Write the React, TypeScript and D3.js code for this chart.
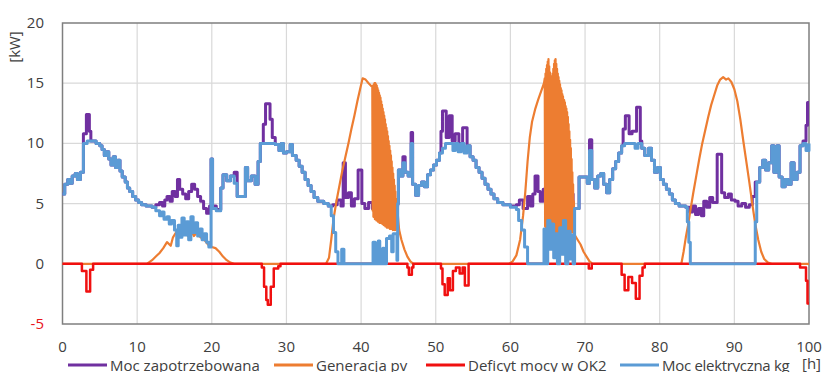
import React from 'react';
import * as d3 from 'd3';

type Pt = [number, number];

// [hour, kW] breakpoints (step after)
const demand: Pt[] = [
  [0, 5.8], [0.3, 6.6], [0.7, 7.0], [1.0, 6.7], [1.3, 7.3], [1.7, 7.5], [2.0, 7.0], [2.4, 7.6],
  [2.8, 10.8], [3.2, 12.4], [3.6, 11.0], [3.8, 10.2], [4.5, 10.0], [5.0, 9.8], [5.3, 9.5], [5.6, 9.0],
  [5.9, 9.3], [6.2, 8.7], [6.5, 8.2], [6.8, 8.9], [7.1, 8.0], [7.4, 8.6], [7.7, 7.7], [8.0, 7.2],
  [8.4, 6.8], [8.7, 6.3], [9.0, 6.0], [9.4, 5.6], [9.8, 5.3], [10.2, 5.1], [10.6, 4.9], [11.2, 4.8],
  [12.0, 4.7], [12.5, 4.9], [13.0, 5.1], [13.4, 4.8], [13.7, 5.3], [14.0, 5.6], [14.4, 5.2], [14.7, 6.0],
  [15.1, 5.6], [15.4, 7.0], [15.7, 6.2], [16.1, 5.8], [16.5, 5.4], [16.9, 6.0], [17.3, 6.6], [17.7, 6.2],
  [18.1, 5.6], [18.5, 5.2], [18.9, 4.6], [19.3, 4.2], [19.7, 4.8], [19.9, 8.7], [20.1, 4.8], [20.6, 4.5],
  [21.2, 6.3], [21.5, 7.4], [22.0, 6.9], [22.5, 7.3], [23.0, 7.6], [23.4, 5.6], [24.5, 8.0], [24.8, 6.9],
  [25.3, 7.3], [25.8, 6.6], [26.2, 8.5], [26.5, 10.0], [26.9, 11.6], [27.2, 13.3], [27.8, 12.0], [28.1, 10.5],
  [28.5, 9.9], [29.0, 9.4], [29.3, 10.0], [29.6, 9.2], [30.0, 9.3], [30.5, 9.9], [30.8, 9.0], [31.3, 8.6],
  [31.7, 8.1], [32.1, 7.6], [32.5, 7.0], [32.9, 6.5], [33.3, 6.0], [33.7, 5.5], [34.2, 5.2], [35.0, 5.0],
  [35.6, 4.8], [36.2, 4.9], [36.8, 5.3], [37.3, 4.8], [37.6, 8.4], [37.9, 5.5], [38.3, 5.9], [38.7, 4.8],
  [39.1, 5.4], [39.6, 7.8], [40.1, 5.0], [40.5, 4.6], [41.0, 5.1], [41.5, 4.6], [42.0, 4.9], [42.5, 4.4],
  [43.0, 5.2], [43.5, 4.7], [44.0, 5.4], [44.5, 4.8], [44.9, 5.0], [45.0, 7.8], [45.3, 7.3], [45.6, 8.9],
  [45.9, 7.6], [46.3, 7.3], [46.7, 10.9], [46.9, 6.6], [47.3, 5.7], [47.7, 6.5], [48.1, 6.8], [48.5, 6.4],
  [48.9, 7.4], [49.3, 7.8], [49.7, 8.2], [50.1, 8.6], [50.5, 9.2], [50.7, 11.0], [50.9, 12.7], [51.4, 10.5],
  [51.8, 12.3], [52.2, 10.2], [52.6, 10.8], [53.1, 10.0], [53.6, 11.3], [54.2, 9.8], [54.6, 8.9], [55.0, 8.6],
  [55.4, 8.0], [55.8, 7.6], [56.2, 7.1], [56.6, 6.6], [57.0, 6.2], [57.4, 5.8], [57.8, 5.4], [58.3, 5.1],
  [59.0, 4.9], [60.0, 4.8], [60.8, 4.9], [61.2, 5.3], [61.7, 4.6], [62.3, 5.6], [62.7, 4.8], [63.0, 5.8],
  [63.3, 7.3], [63.7, 6.0], [64.0, 5.2], [64.4, 6.2], [64.8, 4.9], [65.2, 5.5], [65.6, 4.7], [66.0, 6.0],
  [66.5, 5.0], [67.0, 5.6], [67.5, 4.8], [68.0, 5.8], [68.4, 4.6], [69.2, 7.2], [70.3, 6.7], [70.6, 10.3],
  [70.9, 7.0], [71.3, 6.3], [71.7, 7.3], [72.1, 7.5], [72.5, 6.6], [72.9, 5.9], [73.3, 7.0], [73.7, 7.9],
  [74.1, 8.5], [74.5, 9.2], [74.9, 9.8], [75.1, 11.2], [75.4, 12.3], [75.9, 10.8], [76.3, 11.0], [76.9, 13.0],
  [77.4, 10.2], [77.6, 9.6], [78.0, 9.0], [78.5, 9.6], [78.9, 8.6], [79.3, 7.6], [79.7, 8.0], [80.1, 7.0],
  [80.5, 6.6], [80.9, 6.2], [81.3, 5.8], [81.7, 5.3], [82.1, 5.0], [82.6, 4.8], [83.5, 4.7], [84.0, 4.3],
  [84.4, 4.8], [84.8, 4.1], [85.2, 4.6], [85.6, 4.0], [85.9, 5.2], [86.3, 4.7], [86.7, 5.5], [87.1, 5.1],
  [87.7, 9.1], [88.3, 5.9], [88.7, 5.5], [89.2, 5.8], [89.6, 5.3], [90.1, 5.2], [90.5, 4.8], [91.0, 5.0],
  [91.5, 4.7], [92.0, 4.9], [92.4, 5.6], [92.8, 6.8], [93.4, 8.0], [93.8, 8.6], [94.2, 7.8], [94.6, 8.4],
  [95.0, 9.8], [95.3, 7.6], [95.7, 9.8], [96.0, 7.2], [96.4, 6.4], [96.8, 7.0], [97.2, 6.6], [97.6, 8.4],
  [98.0, 7.0], [98.4, 7.6], [98.8, 9.8], [99.2, 10.2], [99.6, 11.5], [99.8, 13.4], [100, 13.4],
];

const pvGeneration: Pt[] = [
  [0, 0], [11.3, 0], [12.0, 0.3], [12.5, 0.6], [13.0, 0.9], [13.5, 1.3], [14.0, 1.8], [14.5, 1.5],
  [14.8, 2.2], [15.2, 2.6], [15.6, 3.0], [16.0, 2.4], [16.4, 2.9], [16.8, 2.3], [17.2, 2.8], [17.6, 2.3],
  [18.0, 2.6], [18.5, 2.2], [19.0, 2.0], [19.5, 1.6], [20.0, 1.4], [20.5, 1.3], [21.0, 1.0], [21.5, 0.6],
  [22.0, 0.3], [22.5, 0.1], [23.0, 0], [35.3, 0], [35.7, 0.5], [36.0, 2.0], [36.3, 3.7], [36.7, 5.2],
  [37.1, 6.5], [37.5, 7.8], [37.9, 8.9], [38.3, 10.0], [38.7, 11.2], [39.1, 12.3], [39.5, 13.5], [39.9, 14.6],
  [40.2, 15.4], [40.6, 15.3], [41.0, 15.0], [41.3, 14.8],
  [41.50, 14.7], [41.55, 4.4], [41.60, 14.8], [41.65, 3.9], [41.70, 14.9], [41.75, 4.2], [41.80, 15.0], [41.85, 3.7],
  [41.90, 15.0], [41.95, 4.1], [42.00, 14.9], [42.05, 3.6], [42.10, 14.8], [42.15, 4.0], [42.20, 14.6], [42.25, 3.5],
  [42.30, 14.4], [42.35, 3.9], [42.40, 14.2], [42.45, 3.4], [42.50, 14.0], [42.55, 3.8], [42.60, 13.8], [42.65, 3.4],
  [42.70, 13.5], [42.75, 3.7], [42.80, 13.2], [42.85, 3.3], [42.90, 12.9], [42.95, 3.6], [43.00, 12.6], [43.05, 3.2],
  [43.10, 12.3], [43.15, 3.5], [43.20, 12.0], [43.25, 3.1], [43.30, 11.6], [43.35, 3.4], [43.40, 11.3], [43.45, 3.0],
  [43.50, 11.0], [43.55, 3.3], [43.60, 10.6], [43.65, 3.0], [43.70, 10.2], [43.75, 3.3], [43.80, 9.8], [43.85, 2.9],
  [43.90, 9.4], [43.95, 3.2], [44.00, 9.0], [44.05, 2.9], [44.10, 8.5], [44.15, 3.1], [44.20, 8.0], [44.25, 2.8],
  [44.30, 7.5], [44.35, 3.1], [44.40, 7.0], [44.45, 2.8], [44.50, 6.5], [44.55, 3.0], [44.60, 6.0], [44.65, 2.8],
  [44.70, 5.4], [44.75, 3.0], [44.80, 4.8], [44.85, 2.9], [44.90, 4.2],
  [45.1, 2.8], [45.4, 2.0], [45.8, 1.2], [46.2, 0.6], [46.6, 0.2], [47.0, 0], [59.8, 0], [60.3, 0.2],
  [60.8, 0.7], [61.3, 2.0], [61.7, 4.0], [62.0, 6.0], [62.3, 8.5], [62.6, 10.5], [62.9, 11.8], [63.3, 12.8],
  [63.7, 13.6], [64.1, 14.3], [64.5, 15.0],
  [64.60, 15.4], [64.65, 3.1], [64.70, 15.8], [64.75, 2.8], [64.80, 16.2], [64.85, 3.0], [64.90, 16.5], [64.95, 2.6],
  [65.00, 16.8], [65.05, 2.9], [65.10, 17.0], [65.15, 2.5], [65.20, 16.4], [65.25, 2.8], [65.30, 15.9], [65.35, 2.6],
  [65.40, 15.6], [65.45, 3.0], [65.50, 15.5], [65.55, 2.7], [65.65, 15.8], [65.70, 2.9], [65.75, 16.2], [65.80, 2.5],
  [65.85, 16.6], [65.90, 2.8], [65.95, 16.9], [66.00, 2.6], [66.05, 17.0], [66.10, 2.9], [66.15, 16.6], [66.20, 2.5],
  [66.25, 16.2], [66.30, 2.8], [66.35, 15.8], [66.40, 2.6], [66.45, 15.5], [66.50, 2.9], [66.55, 15.2], [66.60, 2.5],
  [66.65, 14.9], [66.70, 2.8], [66.75, 14.6], [66.80, 2.4], [66.85, 14.4], [66.90, 2.7], [66.95, 14.1], [67.00, 2.5],
  [67.05, 13.9], [67.15, 2.8], [67.20, 13.6], [67.25, 2.4], [67.30, 13.4], [67.35, 2.7], [67.40, 13.1], [67.45, 2.4],
  [67.50, 12.9], [67.55, 2.8], [67.60, 12.6], [67.65, 2.5], [67.70, 12.2], [67.75, 2.8], [67.80, 11.6], [67.85, 2.5],
  [67.90, 11.0], [67.95, 2.8], [68.00, 10.3], [68.05, 2.6], [68.10, 9.6], [68.15, 2.9], [68.20, 8.7], [68.25, 2.6],
  [68.30, 7.6], [68.35, 2.8], [68.40, 6.6], [68.45, 2.6], [68.50, 5.2], [68.55, 2.5],
  [68.6, 2.4], [69.0, 2.0], [69.4, 1.6], [69.8, 1.0], [70.2, 0.6], [70.6, 0.2], [71.0, 0], [82.9, 0],
  [83.2, 1.0], [83.5, 2.2], [83.8, 3.2], [84.1, 4.4], [84.5, 5.9], [84.9, 7.3], [85.3, 8.7], [85.7, 10.0],
  [86.1, 11.1], [86.5, 12.2], [86.9, 13.2], [87.3, 14.0], [87.7, 14.8], [88.1, 15.3], [88.5, 15.5], [88.9, 15.3],
  [89.2, 15.4], [89.6, 15.1], [90.0, 14.5], [90.4, 13.5], [90.8, 12.0], [91.2, 10.2], [91.6, 8.5], [92.0, 6.8],
  [92.4, 5.0], [92.8, 3.3], [93.2, 2.0], [93.6, 1.0], [94.0, 0.4], [94.5, 0.1], [95.0, 0], [100, 0],
];

const deficit: Pt[] = [
  [0, 0], [2.6, -0.6], [3.2, -2.3], [3.7, -0.5], [4.1, 0], [26.7, -0.3], [27.0, -1.9], [27.3, -3.0],
  [27.5, -3.4], [27.9, -1.9], [28.3, -0.4], [28.9, -0.2], [29.2, 0], [46.2, -0.3], [46.4, -0.9], [46.8, -0.3],
  [47.0, 0], [50.7, -0.4], [50.9, -1.7], [51.2, -2.6], [51.6, -1.2], [51.9, -2.2], [52.3, -0.6], [52.7, -0.3],
  [53.2, -0.8], [53.6, -0.3], [53.9, -1.8], [54.4, 0], [70.5, -0.4], [70.9, 0], [74.9, -0.9], [75.3, -2.2],
  [75.8, -1.1], [76.3, -1.6], [76.8, -2.9], [77.3, -1.0], [77.7, -0.3], [78.0, 0], [98.8, -0.3], [99.6, -1.4],
  [99.8, -3.3], [100, -3.3],
];

const kgPower: Pt[] = [
  [0, 5.8], [0.3, 6.6], [0.7, 7.0], [1.0, 6.7], [1.3, 7.3], [1.7, 7.5], [2.0, 7.0], [2.4, 7.6],
  [2.8, 10.0], [3.3, 10.2], [4.5, 10.0], [5.0, 9.8], [5.3, 9.5], [5.6, 9.0], [5.9, 9.3], [6.2, 8.7],
  [6.5, 8.2], [6.8, 8.9], [7.1, 8.0], [7.4, 8.6], [7.7, 7.7], [8.0, 7.2], [8.4, 6.8], [8.7, 6.3],
  [9.0, 6.0], [9.4, 5.6], [9.8, 5.3], [10.2, 5.1], [10.6, 4.9], [11.2, 4.8], [12.0, 4.7], [12.5, 4.4],
  [13.0, 4.0], [13.3, 4.3], [13.6, 3.7], [14.0, 3.9], [14.3, 3.3], [14.6, 3.6], [15.0, 2.8], [15.3, 1.5],
  [15.5, 3.2], [15.8, 2.2], [16.0, 3.8], [16.3, 2.4], [16.6, 3.5], [16.9, 2.0], [17.2, 3.9], [17.5, 2.6],
  [17.8, 3.4], [18.1, 2.3], [18.4, 2.9], [18.7, 2.0], [19.0, 2.5], [19.3, 1.8], [19.6, 1.4], [19.9, 8.7],
  [20.1, 4.6], [20.6, 4.4], [21.2, 6.3], [21.5, 7.4], [22.0, 6.9], [22.5, 7.3], [23.0, 6.7], [23.4, 5.6],
  [24.5, 8.0], [24.8, 6.9], [25.3, 7.3], [25.8, 6.6], [26.2, 8.5], [26.5, 10.0], [27.8, 10.0], [28.5, 9.9],
  [29.0, 9.4], [29.3, 10.0], [29.6, 9.2], [30.0, 9.3], [30.5, 9.9], [30.8, 9.0], [31.3, 8.6], [31.7, 8.1],
  [32.1, 7.6], [32.5, 7.0], [32.9, 6.5], [33.3, 6.0], [33.7, 5.5], [34.2, 5.2], [35.0, 5.0], [35.6, 4.8],
  [36.0, 4.0], [36.3, 2.6], [36.6, 1.0], [36.9, 0], [37.4, 1.2], [37.7, 0], [41.6, 1.8], [41.9, 0],
  [42.3, 1.9], [42.5, 0], [42.9, 1.3], [43.1, 0], [43.4, 2.1], [43.8, 2.3], [44.1, 1.0], [44.3, 2.5],
  [44.8, 0.3], [44.9, 5.0], [45.0, 7.8], [45.3, 7.3], [45.6, 8.4], [45.9, 7.6], [46.3, 7.3], [46.7, 10.0],
  [46.9, 6.6], [47.3, 5.7], [47.7, 6.5], [48.1, 6.8], [48.5, 6.4], [48.9, 7.4], [49.3, 7.8], [49.7, 8.2],
  [50.1, 8.6], [50.5, 9.2], [50.9, 9.6], [51.3, 10.0], [52.3, 9.4], [52.6, 10.0], [53.0, 9.3], [53.4, 10.0],
  [53.8, 9.2], [54.2, 9.8], [54.6, 8.9], [55.0, 8.6], [55.4, 8.0], [55.8, 7.6], [56.2, 7.1], [56.6, 6.6],
  [57.0, 6.2], [57.4, 5.8], [57.8, 5.4], [58.3, 5.1], [59.0, 4.9], [60.0, 4.7], [60.8, 4.5], [61.1, 3.6],
  [61.5, 2.8], [61.9, 1.4], [62.3, 0], [64.5, 2.9], [64.8, 0], [65.0, 3.6], [65.3, 1.2], [65.5, 3.3],
  [65.8, 0.5], [66.0, 2.5], [66.3, 0], [66.6, 3.0], [66.9, 0.8], [67.1, 3.6], [67.4, 0], [67.7, 2.7],
  [68.0, 0.4], [68.2, 2.4], [68.4, 0], [68.6, 4.6], [69.2, 7.2], [70.3, 6.7], [70.6, 9.4], [70.9, 7.0],
  [71.3, 6.3], [71.7, 7.3], [72.1, 7.5], [72.5, 6.6], [72.9, 5.9], [73.3, 7.0], [73.7, 7.9], [74.1, 8.5],
  [74.5, 9.2], [74.9, 9.8], [75.3, 10.0], [76.7, 9.6], [77.1, 10.0], [77.6, 9.6], [78.0, 9.0], [78.5, 9.6],
  [78.9, 8.6], [79.3, 7.6], [79.7, 8.0], [80.1, 7.0], [80.5, 6.6], [80.9, 6.2], [81.3, 5.8], [81.7, 5.3],
  [82.1, 5.0], [82.6, 4.8], [83.5, 4.7], [83.7, 3.5], [83.9, 1.8], [84.1, 0], [92.8, 3.5], [93.0, 6.8],
  [93.4, 8.0], [93.8, 8.6], [94.2, 7.8], [94.6, 8.4], [95.0, 9.8], [95.3, 7.6], [95.7, 9.8], [96.0, 7.2],
  [96.4, 6.4], [96.8, 7.0], [97.2, 6.6], [97.6, 8.4], [98.0, 7.0], [98.4, 7.6], [98.8, 9.8], [99.2, 10.0],
  [99.6, 9.4], [100, 10.0],
];

const xTicks = [0, 10, 20, 30, 40, 50, 60, 70, 80, 90, 100];
const yTicks = [-5, 0, 5, 10, 15, 20];
const seriesNames = ['Moc zapotrzebowana', 'Generacja pv', 'Deficyt mocy w OK2', 'Moc elektryczna kg'];

const WIDTH = 830;
const HEIGHT = 372;
const FONT = '"Open Sans", sans-serif';

export default function App() {
  const x = d3.scaleLinear().domain([0, 100]).range([62.5, 809]);
  const y = d3.scaleLinear().domain([-5, 20]).range([324, 23]);

  const stepLine = d3.line<Pt>().x(d => x(d[0])).y(d => y(d[1])).curve(d3.curveStepAfter);
  const smoothLine = d3.line<Pt>().x(d => x(d[0])).y(d => y(d[1]));

  const series = [
    { name: seriesNames[0], data: demand, color: '#7030A0', width: 3, path: stepLine },
    { name: seriesNames[1], data: pvGeneration, color: '#ED7D31', width: 2.2, path: smoothLine },
    { name: seriesNames[2], data: deficit, color: '#F01010', width: 2.5, path: stepLine },
    { name: seriesNames[3], data: kgPower, color: '#5B9BD5', width: 3, path: stepLine },
  ];

  // legend sample start positions
  const legendX = [68, 274, 426, 620];

  return (
    <svg width={WIDTH} height={HEIGHT} style={{ position: 'absolute', left: 0, top: 0 }}
      fontFamily={FONT}>
      <rect width={WIDTH} height={HEIGHT} fill="#fff" />

      {/* grid */}
      {xTicks.slice(1, -1).map(t => (
        <line key={'gx' + t} x1={x(t)} x2={x(t)} y1={y(20)} y2={y(-5)} stroke="#d9d9d9" strokeWidth={1.2} />
      ))}
      {yTicks.slice(1, -1).map(t => (
        <line key={'gy' + t} x1={x(0)} x2={x(100)} y1={y(t)} y2={y(t)} stroke="#d9d9d9" strokeWidth={1.2} />
      ))}
      <rect x={x(0)} y={y(20)} width={x(100) - x(0)} height={y(-5) - y(20)} fill="none"
        stroke="#7f7f7f" strokeWidth={1.5} />

      {/* series */}
      {series.map(s => (
        <path key={s.name} d={s.path(s.data) || ''} fill="none" stroke={s.color}
          strokeWidth={s.width} strokeLinejoin="round" />
      ))}

      {/* axis labels */}
      {yTicks.map(t => (
        <text key={'ly' + t} x={44} y={y(t) + 5} textAnchor="end" fontSize={15}
          fill={t < 0 ? '#e8141b' : '#404040'}>{t}</text>
      ))}
      {xTicks.map(t => (
        <text key={'lx' + t} x={x(t)} y={352} textAnchor="middle" fontSize={15} fill="#404040">{t}</text>
      ))}
      <text transform="translate(20,47) rotate(-90)" textAnchor="middle" fontSize={15} fill="#404040">[kW]</text>
      <text x={802} y={369} fontSize={15} fill="#404040">[h]</text>

      {/* legend */}
      {series.map((s, i) => (
        <g key={'lg' + s.name}>
          <line x1={legendX[i]} x2={legendX[i] + 39} y1={365} y2={365} stroke={s.color} strokeWidth={3} />
          <text x={legendX[i] + 42} y={371} fontSize={15} fill="#404040"
            letterSpacing={i === 3 ? -0.3 : 0}>{s.name}</text>
        </g>
      ))}
    </svg>
  );
}
